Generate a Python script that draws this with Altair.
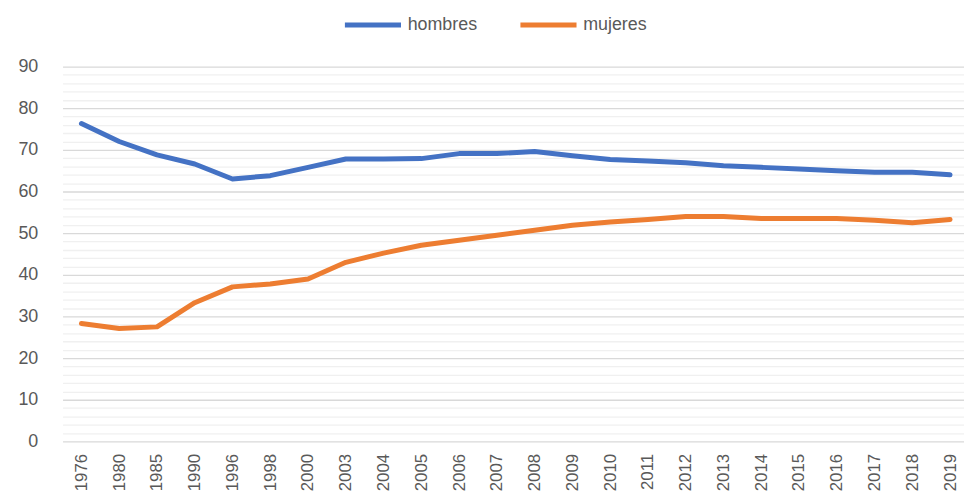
import altair as alt
import pandas as pd

years = ["1976", "1980", "1985", "1990", "1996", "1998", "2000", "2003", "2004",
         "2005", "2006", "2007", "2008", "2009", "2010", "2011", "2012", "2013",
         "2014", "2015", "2016", "2017", "2018", "2019"]
hombres = [76.3, 72.0, 68.8, 66.6, 63.0, 63.8, 65.8, 67.8, 67.8, 67.9, 69.1, 69.1,
           69.6, 68.6, 67.7, 67.3, 66.9, 66.2, 65.8, 65.4, 65.0, 64.6, 64.6, 64.0]
mujeres = [28.3, 27.1, 27.5, 33.3, 37.1, 37.8, 39.0, 43.0, 45.2, 47.1, 48.3, 49.5,
           50.7, 51.9, 52.7, 53.3, 54.0, 54.0, 53.5, 53.5, 53.5, 53.1, 52.5, 53.3]
series = ["hombres", "mujeres"]
colors = ["#4472C4", "#ED7D31"]

rows = []
for name, vals in zip(series, [hombres, mujeres]):
    for i, (y, v) in enumerate(zip(years, vals)):
        rows.append({"year": y, "value": v, "serie": name, "order": i})
df = pd.DataFrame(rows)

FONT = "Liberation Sans"
TXT = "#595959"

chart = alt.Chart(df).mark_line(strokeWidth=5, strokeCap="round", strokeJoin="round").encode(
    x=alt.X("year:O", sort=years, title=None,
            scale=alt.Scale(paddingInner=0, paddingOuter=0, range=[0, 914]),
            axis=alt.Axis(labelAngle=-90, labelFont=FONT, labelFontSize=17,
                          labelColor=TXT, ticks=False, domain=False,
                          labelPadding=12, grid=False)),
    y=alt.Y("value:Q", title=None,
            scale=alt.Scale(domain=[0, 90], nice=False),
            axis=alt.Axis(values=list(range(0, 91, 2)),
                          labelExpr="datum.value % 10 === 0 ? datum.label : ''",
                          labelFont=FONT, labelFontSize=18, labelColor=TXT,
                          ticks=False, domain=False, labelPadding=25,
                          grid=True,
                          gridColor={"condition": {"test": "datum.value % 10 === 0",
                                                   "value": "#d9d9d9"},
                                     "value": "#f0f0f0"},
                          gridWidth=1.3)),
    color=alt.Color("serie:N",
                    scale=alt.Scale(domain=series, range=colors),
                    legend=alt.Legend(title=None, orient="none", direction="horizontal",
                                      legendX=282, legendY=-73,
                                      symbolType="stroke", symbolSize=3200,
                                      symbolStrokeWidth=5, labelFont=FONT,
                                      labelFontSize=18, labelColor=TXT,
                                      labelOffset=4, columnPadding=32)),
    order="order:Q",
).properties(
    width=909, height=378,
    autosize=alt.AutoSizeParams(type="none"),
    padding={"left": 55, "top": 57, "right": 0, "bottom": 52},
).configure_view(stroke=None)

chart.save("out.html", embed_options={"renderer": "svg", "actions": False})
